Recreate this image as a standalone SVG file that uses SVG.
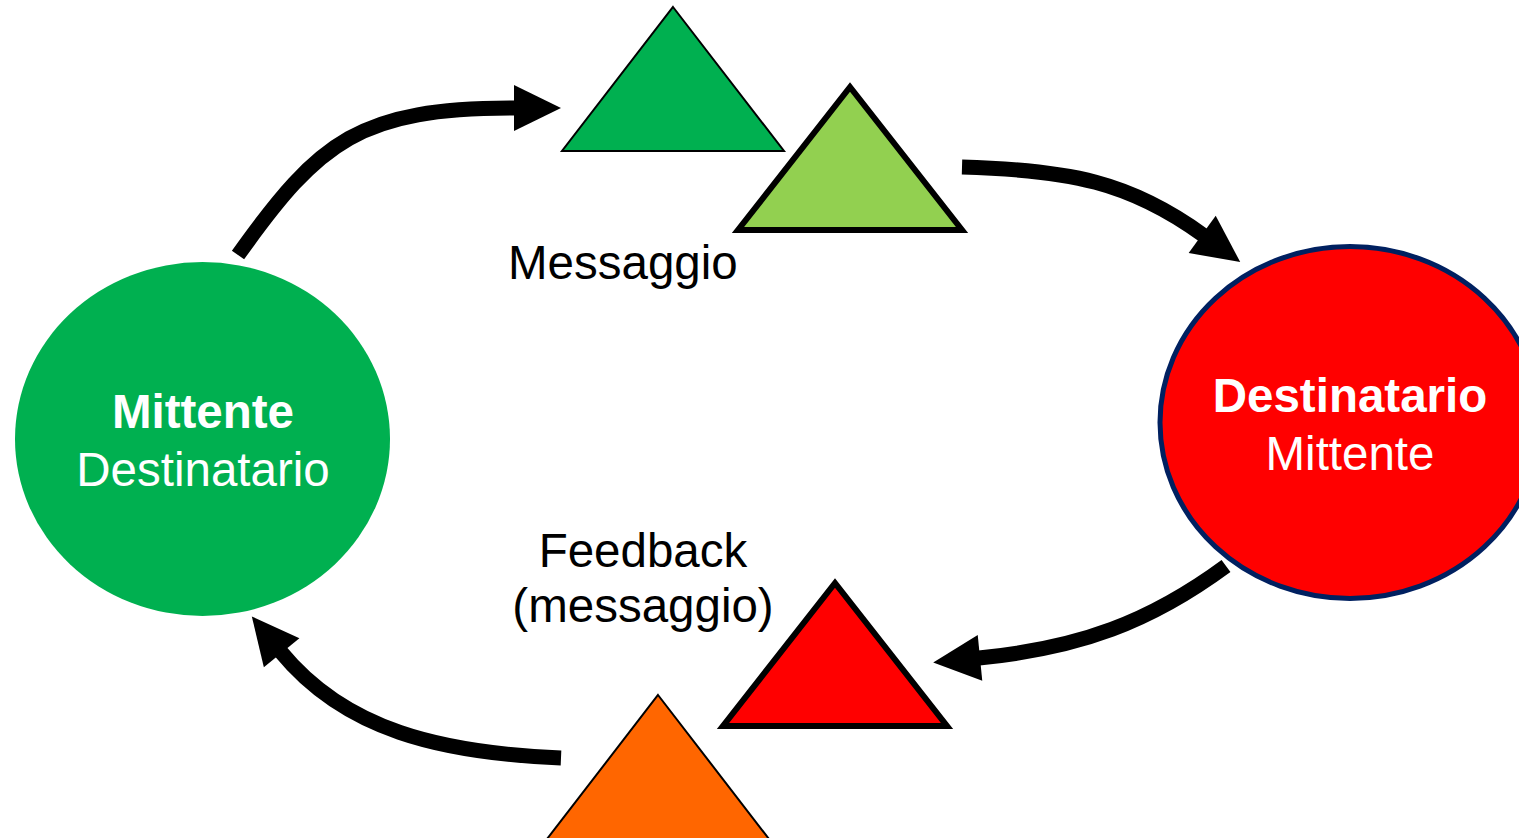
<svg xmlns="http://www.w3.org/2000/svg" width="1519" height="838" viewBox="0 0 1519 838">
<style>
.t{font-family:"Liberation Sans",Arial,sans-serif;font-size:47.5px;}
.b{font-weight:bold;}
.w{fill:#fff;text-anchor:middle;}
.k{fill:#000;}
.conn{fill:none;stroke:#000;stroke-width:15;stroke-linecap:butt;}
.thin{stroke:#000;stroke-width:2;stroke-linejoin:miter;}
.thick{stroke:#000;stroke-width:6;stroke-linejoin:miter;}
</style>
<defs>
<marker id="ah" markerUnits="userSpaceOnUse" viewBox="0 -23 48 46" markerWidth="48" markerHeight="46" refX="1" refY="0" orient="auto" overflow="visible">
<path d="M0,-23 L47,0 L0,23 Z" fill="#000"/>
</marker>
</defs>
<rect width="1519" height="838" fill="#fff"/>
<g id="connectors">
<path class="conn" d="M238,255 C320,140 360,108 515,108" marker-end="url(#ah)"/>
<path class="conn" d="M962,167 C1070,170 1130,182 1203,235" marker-end="url(#ah)"/>
<path class="conn" d="M1226,566 C1150,622 1080,648 979,658" marker-end="url(#ah)"/>
<path class="conn" d="M561,758 C440,753 345,730 281,652" marker-end="url(#ah)"/>
</g>
<g id="mittente">
<ellipse cx="202.5" cy="439" rx="187.5" ry="177" fill="#00B050"/>
<text class="t w b" x="203" y="428">Mittente</text>
<text class="t w" x="203" y="486">Destinatario</text>
</g>
<g id="destinatario">
<ellipse cx="1350" cy="422.5" rx="190" ry="176" fill="#FF0000" stroke="#002060" stroke-width="5"/>
<text class="t w b" x="1350" y="412">Destinatario</text>
<text class="t w" x="1350" y="470">Mittente</text>
</g>
<g id="tri-green">
<polygon class="thin" points="673,7 784,151 562,151" fill="#00B050"/>
</g>
<g id="tri-lightgreen">
<polygon class="thick" points="850,87 962,230 738,230" fill="#92D050"/>
</g>
<g id="tri-red">
<polygon class="thick" points="835,583 947,726 723,726" fill="#FF0000"/>
</g>
<g id="tri-orange">
<polygon class="thin" points="658,695 769,839 547,839" fill="#FF6600"/>
</g>
<g id="label-messaggio">
<text class="t k" x="508" y="279">Messaggio</text>
</g>
<g id="label-feedback">
<text class="t k" x="643" y="567" text-anchor="middle">Feedback</text>
<text class="t k" x="643" y="622" text-anchor="middle">(messaggio)</text>
</g>
</svg>
